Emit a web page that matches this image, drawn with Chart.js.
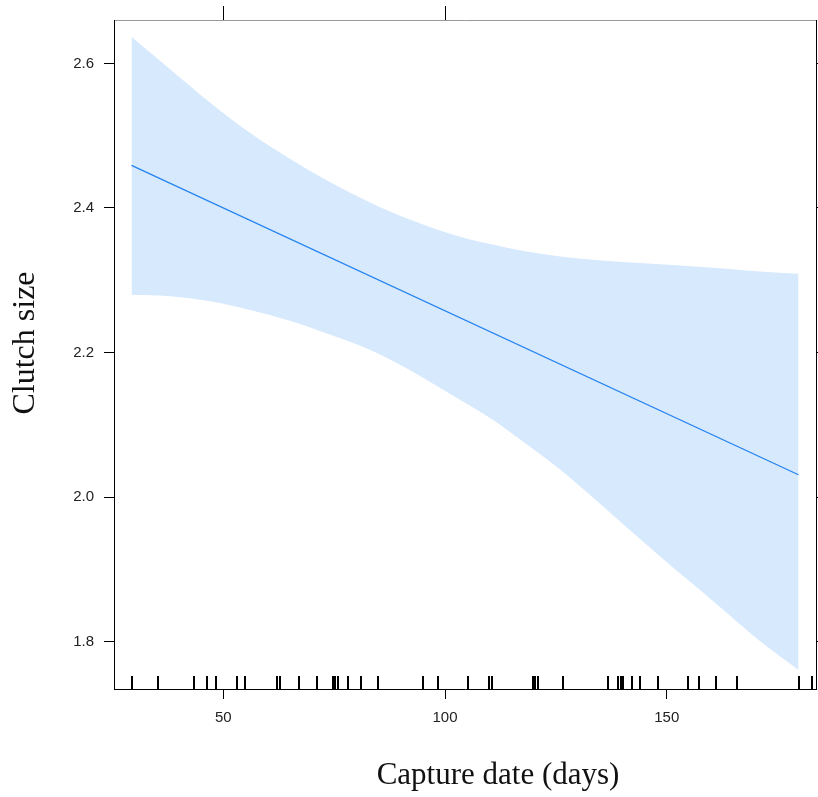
<!DOCTYPE html>
<html lang="en">
<head>
    <meta charset="UTF-8">
    <title>Clutch size vs capture date</title>
    <script src="https://cdn.jsdelivr.net/npm/chart.js"></script>
    <style>
        body { margin: 0; background: #fff; }
        canvas { display: block; }
    </style>
</head>
<body>
    <canvas id="chartCanvas" width="818" height="797"></canvas>

    <script>
        // effect of capture date on clutch size
        const bandDays  = [29.3, 38, 47, 56, 65, 74, 83, 92, 103, 111, 118, 126, 134, 141, 148.5, 156, 163.5, 171, 179.7];
        const bandUpper = [2.637, 2.592, 2.546, 2.504, 2.468, 2.436, 2.408, 2.384, 2.361, 2.349, 2.340, 2.333, 2.328, 2.325, 2.322, 2.319, 2.316, 2.312, 2.309];
        const bandLower = [2.280, 2.278, 2.271, 2.259, 2.244, 2.225, 2.204, 2.176, 2.136, 2.106, 2.075, 2.038, 1.996, 1.958, 1.918, 1.879, 1.840, 1.801, 1.761];
        const fitDays   = [29.3, 179.7];
        const fitValues = [2.459, 2.031];
        const rugDays = [29.3, 35.3, 43.4, 46.3, 48.3, 53.0, 54.9, 62.1, 62.8, 67.1, 71.2, 74.8, 75.2, 75.8, 78.1, 81.1, 84.9, 95.1, 98.3,
                         105.1, 109.8, 110.7, 119.8, 120.2, 120.9, 126.7, 136.7, 139.1, 139.6, 140.1, 142.1, 143.9, 148.0, 154.8, 157.2,
                         161.1, 165.9, 179.8, 182.8];
        const xTicks = [50, 100, 150];
        const xTopTicks = [50, 100];
        const yTicks = [1.8, 2.0, 2.2, 2.4, 2.6];

        const toPoints = (xs, ys) => xs.map((x, i) => ({ x: x, y: ys[i] }));
        const fixTicks = vals => scale => { scale.ticks = vals.map(v => ({ value: v })); };

        // rug along the bottom of the panel + the two axis titles
        const extras = {
            id: 'extras',
            afterDatasetsDraw(chart) {
                const c = chart.ctx, a = chart.chartArea, xs = chart.scales.x;
                c.save();
                c.strokeStyle = '#000';
                c.lineWidth = 2;
                rugDays.forEach(d => {
                    const px = Math.round(xs.getPixelForValue(d));
                    c.beginPath();
                    c.moveTo(px, a.bottom - 13);
                    c.lineTo(px, a.bottom);
                    c.stroke();
                });
                c.restore();
            },
            afterDraw(chart) {
                const c = chart.ctx;
                c.save();
                c.fillStyle = '#111';
                c.font = '31px "Liberation Serif", serif';
                c.textAlign = 'center';
                c.textBaseline = 'middle';
                c.fillText('Capture date (days)', 498, 776);
                c.translate(26, 343);
                c.rotate(-Math.PI / 2);
                c.font = '32px "Liberation Serif", serif';
                c.fillText('Clutch size', 0, 0);
                c.restore();
            }
        };

        const tickFont = { family: '"Liberation Sans", Arial, sans-serif', size: 15 };

        const ctx = document.getElementById('chartCanvas').getContext('2d');
        const chart = new Chart(ctx, {
            type: 'line',
            data: {
                datasets: [
                    { data: toPoints(fitDays, fitValues), borderColor: '#2583f0', borderWidth: 1.3, pointRadius: 0, fill: false, order: 0 },
                    { data: toPoints(bandDays, bandUpper), borderWidth: 0, pointRadius: 0, fill: false, cubicInterpolationMode: 'monotone', order: 1 },
                    { data: toPoints(bandDays, bandLower), borderWidth: 0, pointRadius: 0, fill: 1, cubicInterpolationMode: 'monotone', backgroundColor: '#d7e9fc', order: 1 }
                ]
            },
            options: {
                responsive: false,
                animation: false,
                layout: { padding: 0 },
                plugins: { legend: { display: false }, tooltip: { enabled: false } },
                scales: {
                    x: {
                        type: 'linear', position: 'bottom', min: 25.35, max: 183.65,
                        afterBuildTicks: fixTicks(xTicks),
                        afterFit: s => { s.height = 108; },
                        grid: { drawOnChartArea: false, tickLength: 10, tickColor: '#000' },
                        border: { color: '#000', width: 1 },
                        ticks: { font: tickFont, color: '#222', padding: 10, maxRotation: 0 }
                    },
                    xTop: {
                        type: 'linear', position: 'top', min: 25.35, max: 183.65,
                        afterBuildTicks: fixTicks(xTopTicks),
                        afterFit: s => { s.height = 20; },
                        grid: { drawOnChartArea: false, tickLength: 14, tickColor: '#000' },
                        border: { color: '#999', width: 1 },
                        ticks: { display: false }
                    },
                    y: {
                        type: 'linear', position: 'left', min: 1.7346, max: 2.66,
                        afterBuildTicks: fixTicks(yTicks),
                        afterFit: s => { s.width = 114; },
                        grid: { drawOnChartArea: false, tickLength: 10, tickColor: '#000' },
                        border: { color: '#000', width: 1 },
                        ticks: { font: tickFont, color: '#222', padding: 10, callback: v => v.toFixed(1) }
                    },
                    yRight: {
                        type: 'linear', position: 'right', min: 1.7346, max: 2.66,
                        afterBuildTicks: fixTicks(yTicks),
                        afterFit: s => { s.width = 2; },
                        grid: { drawOnChartArea: false, tickLength: 6, tickColor: '#000' },
                        border: { color: '#000', width: 1 },
                        ticks: { display: false }
                    }
                }
            },
            plugins: [extras]
        });
    </script>
</body>
</html>
